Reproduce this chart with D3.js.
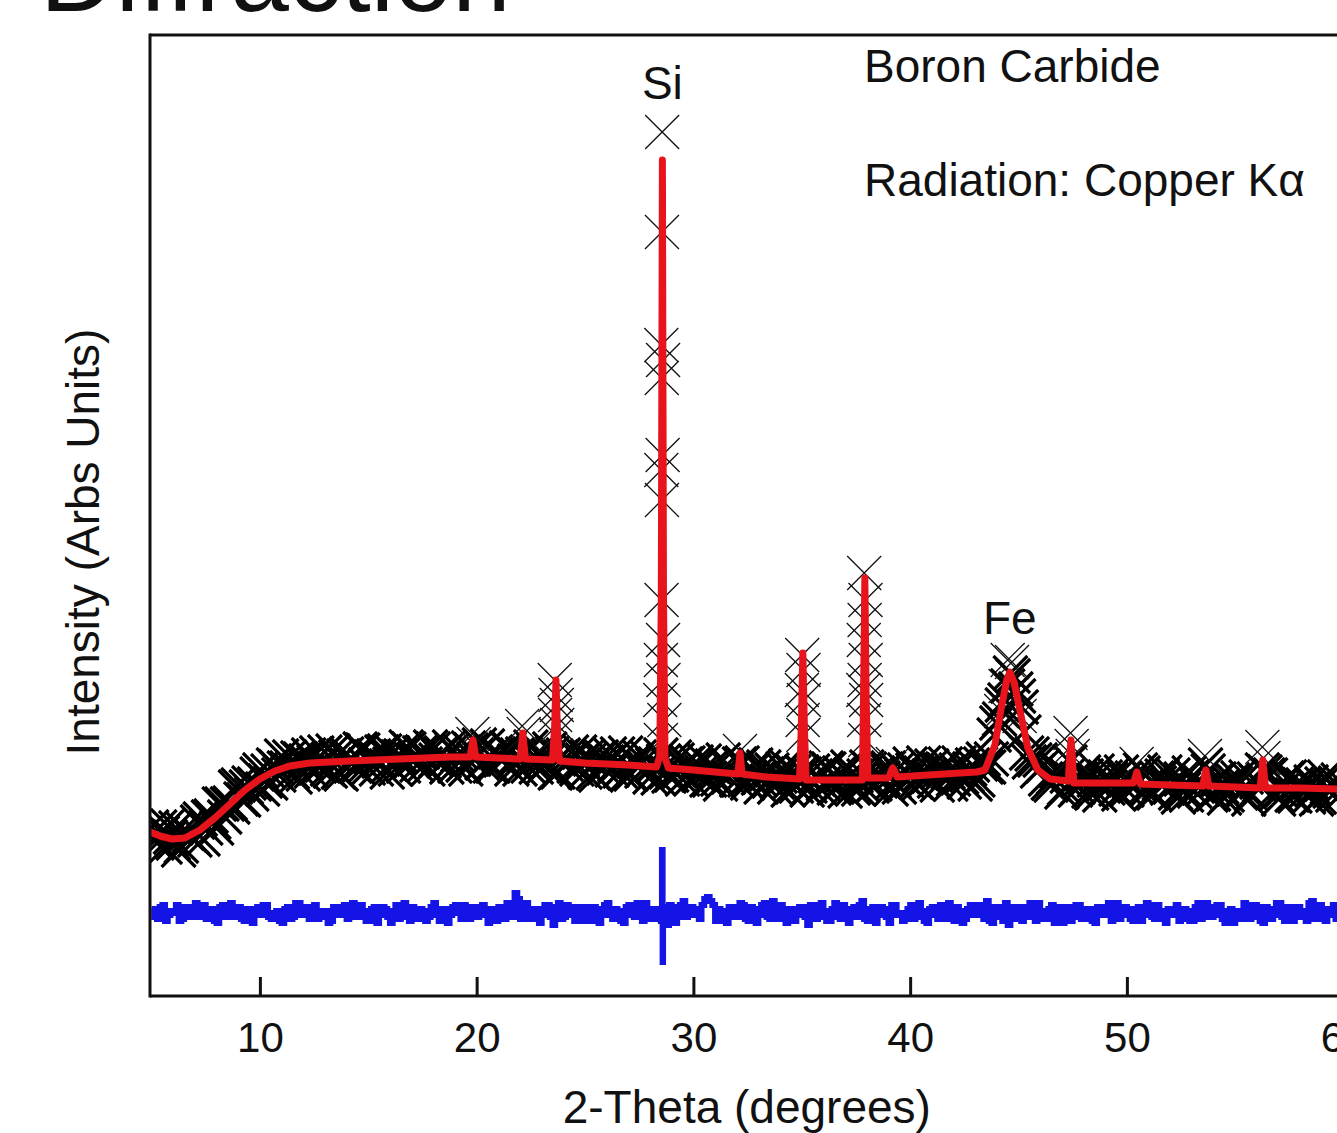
<!DOCTYPE html>
<html>
<head>
<meta charset="utf-8">
<script src="https://cdn.jsdelivr.net/npm/d3@7"></script>
<style>
  html, body { margin: 0; padding: 0; background: #ffffff; }
  svg { display: block; }
  text { font-family: "Liberation Sans", Arial, sans-serif; fill: #111; }
</style>
</head>
<body>
<svg id="chart" width="1337" height="1133"></svg>
<script>
// ---------------- data ----------------
const scanStart = 5.0;      // 2-theta of first scan point (degrees)
const scanStep = 0.125;     // step between scan points (degrees)

// observed intensity on the scan grid (arbitrary units)
const obsCounts = [
  169,157,153,169,163,149,170,159,153,168,146,150,166,163,161,159,156,174,177,157,
  168,179,180,174,168,192,192,179,192,193,189,209,211,197,196,209,213,202,212,222,
  226,207,215,225,213,231,229,221,240,228,228,239,224,219,238,237,222,235,241,225,
  234,243,230,231,244,227,225,245,239,224,222,240,242,236,237,230,229,247,246,231,
  228,239,240,227,235,244,245,224,232,243,227,239,240,230,249,247,236,237,231,243,
  244,232,227,249,247,236,240,243,235,229,249,246,230,241,244,231,227,248,246,237,
  241,251,233,235,250,230,230,244,242,236,237,248,247,227,235,241,227,242,242,230,
  249,236,229,244,239,230,234,247,243,223,224,239,241,232,236,244,230,227,244,236,
  224,240,237,223,221,238,239,228,234,242,226,231,242,225,228,243,223,222,235,233,
  239,225,228,238,219,231,232,218,241,235,224,220,221,239,236,225,217,232,233,217,
  227,234,221,224,235,216,216,230,228,217,212,236,230,219,226,224,216,232,233,216,
  213,218,226,231,218,209,229,222,215,226,209,214,220,227,230,206,215,224,210,218,
  224,222,206,210,225,220,217,207,212,228,227,215,208,209,223,221,205,229,221,208,
  220,207,212,220,229,227,210,212,223,215,218,227,228,207,215,226,209,220,226,215,
  232,226,214,212,223,233,218,220,230,215,211,226,227,232,224,212,217,226,233,219,
  214,221,227,231,212,216,232,237,229,229,237,261,273,277,291,296,310,323,320,307,
  300,289,264,243,234,242,236,225,236,230,217,213,211,219,225,226,204,208,220,234,
  216,206,209,217,224,220,205,203,216,225,201,211,219,208,217,222,207,202,224,217,
  206,214,218,210,213,226,223,209,208,203,203,218,213,220,224,208,209,221,203,199,
  217,207,201,223,219,205,210,214,207,231,225,201,202,216,217,209,198,201,212,216,
  213,218,203,208,219,197,202,217,214,211,226,224,221,221,204,202,197,205,214,218,
  219,201,200,213,211,211,205,199,214,208,197,199,212,219,209,205,201,213,216,202
];

// extra observed points on the flanks of the sharp peaks [2-theta, intensity]
const obsPeakPoints = [
  [19.8,262],[19.86,252],
  [22.1,270],[22.17,262],
  [23.6,316],[23.64,301],[23.7,291],[23.62,281],[23.72,271],[23.66,261],
  [28.56,864],[28.55,764],[28.52,651],[28.6,636],[28.54,618],[28.58,541],
  [28.52,526],[28.55,496],[28.53,396],[28.6,356],[28.5,336],[28.62,316],
  [28.47,296],[28.66,276],[28.5,256],
  [32.15,245],
  [35.02,341],[35.08,326],[35.0,306],[35.1,296],[35.04,276],[35.07,261],
  [37.88,423],[37.94,396],[37.9,376],[37.86,356],[37.95,336],[37.9,316],
  [37.84,306],[37.97,296],[37.88,276],[37.93,256],
  [39.2,232],
  [44.5,336],[44.7,334],[44.4,310],[44.85,305],[44.2,285],[45.05,280],
  [47.4,263],[47.45,250],[47.5,240],
  [50.45,232],
  [53.6,240],
  [56.25,249],[56.3,238]
];

// calculated (fitted) profile vertices [2-theta, intensity]
const calcCurve = [
  [4.93,164],[5.39,160],[5.94,157],[6.54,158],[7.23,166],[7.92,178],[8.62,192],
  [9.31,206],[10,217],[10.69,225],[11.38,230],[12.31,233],[14.15,235],[16.46,237],
  [18.77,239],[19.7,239],[19.78,250],[19.83,256],[19.88,250],[19.96,239],
  [21.0,238],[22.0,237],[22.07,250],[22.13,263],[22.19,250],[22.26,237],
  [23.5,236],[23.6,270],[23.66,316],[23.72,270],[23.82,235],
  [25,233],[27,231],[28.3,229],[28.45,240],[28.52,400],[28.57,836],[28.62,400],
  [28.69,238],[28.85,228],
  [30,226],[31,224],[32.05,222],[32.15,243],[32.25,222],
  [33.39,219],[34.9,217],[34.98,270],[35.05,343],[35.12,270],[35.2,216],
  [36.5,216],[37.8,216],[37.85,300],[37.91,418],[37.97,300],[38.05,218],
  [39.0,218],[39.15,226],[39.2,228],[39.25,226],[39.4,219],
  [42.3,223],[43.08,224],[43.45,226],[43.91,251],[44.23,291],[44.46,316],[44.6,324],
  [44.79,314],[45.06,286],[45.43,248],[45.89,226],[46.45,217],
  [47.3,215],[47.36,240],[47.42,256],[47.48,240],[47.55,213],
  [48.75,213],[50.3,213],[50.46,224],[50.62,212],[51.98,211],
  [53.5,210],[53.64,226],[53.78,210],[55.0,209],
  [56.15,208],[56.22,225],[56.27,236],[56.32,225],[56.4,208],
  [57.98,208],[59.7,207],[60,207]
];

// difference (observed - calculated) on the scan grid
const diffValues = [
   4,-4,-6, 6, 8,-8,-2, 2, 0, 8,-8,-6, 6, 0,-4, 6,10,-4,-2, 8,
  -6, 2, 4,-8,-10,6, 8,-4, 2,10,-4,-2, 6,-6,-8, 4, 0,-10,4, 6,
  -2, 8, 8,-4,-6, 0, 2,-8,-10,4, 6,-6,-4,10,10,-2,-2, 6,-6,-4,
   8,-6,-4, 2, 2,-10,-8,6, 6,-2, 0, 8,-6,-4,10, 0,-4, 8, 2,-8,
  -8, 4, 6,-10,-2,6, 4,-4,-10,2, 8,-6,-4,10, 0,-8, 6,-2,-6, 4,
   2,-8,-4, 6,10,-2,-8, 4, 4,-10,-2,6, 8, 0,-6, 8, 0,-6, 6,-2,
  -4, 6, 8,-2,-10,4, 2,-8, 6, 0,-6,10, 8,-4,20,14,-6, 4,10,-6,
  -6, 4, 4,-10,-2,8, 8,-4,-12,6,10,-6,-4, 8, 6,-2,-8, 6, 2,-8,
   6,-4,-8, 6, 4,-10,-2,8,10,-2,-6, 4, 2,-8,-10,6, 8,-2,-4,10,
   2,-8,10, 4,-6,-2, 4,-6,-8, 6,-12,8, 6,-10,-4,8,12,-4,-2, 6,
   4,-2,-6, 8,14,16,12, 8,-8, 4, 2,-8,-10,6, 6,-4,-4,10, 8,-6,
  -8, 6, 4,-10,-2,8,10,-4,-6,12, 0,-6, 8,-2,-10,4, 4,-8,-2, 6,
   6,-4,-12,8, 8,-6,-4,10, 2,-8,-8, 4,10,-4,-6, 8, 4,-10,-2,6,
  -4, 8,12,-6,-8, 4, 6,-10,-2,6, 4,-4,-10,8, 8,-2, 0,-8,-6, 4,
   8,-6,-4,10, 2,-8,-10,4, 6,-2,-6, 8, 4,-6,10,-4,-8, 6, 2,-10,
  -6, 4, 8,-2,-2, 8, 4,-6,12,-8,-10,6, 6,-4,-8,10,-12,6, 4,-6,
   6,-8,-4, 6,10,-4,-8,10, 2,-6,-6, 4, 8,-10,-2,6,-10,4, 6,-8,
  -4, 8, 8,-6,-6, 4, 4,-8,-10,6, 6,-2, 0,10,-8,-4,10,-6,-2, 6,
   4,-6,-8, 4, 6,-8,-2,10, 8,-4,-6, 8, 2,-6,-10,4, 4,-2, 8,-8,
  -6, 4, 2,-8,-8, 6,10,-6,-4,10, 6,-4,-2, 8, 8,-6,-10,2, 4,-10,
   2,-4,-6,10, 8,-6,-4, 8, 6,-8,-10,6, 4,-6,-2,10,10,-4,-8, 6,
   6,-8,-4, 6, 2,-4,-8,10,12,-6,-6, 8, 4,-8,-2, 4, 8,-6,-4, 8
];
// difference at the Si reflection [2-theta, difference]
const diffPeakPoints = [[28.52,-4],[28.55,63],[28.58,-49],[28.6,3]];
const diffOffset = 83;   // vertical offset of the difference curve

const xTicks = [10, 20, 30, 40, 50, 60];
const peakLabels = [
  { text: "Si", twoTheta: 28.57, intensity: 897 },
  { text: "Fe", twoTheta: 44.6, intensity: 362 }
];
const infoLines = ["Boron Carbide", "Radiation: Copper K\u03B1"];

// ---------------- layout ----------------
const W = 1337, H = 1133;
const plotLeft = 150, plotTop = 35, plotBottom = 996;
const pxPerDeg = 21.675;
const xMin = 4.93, xMax = 60;

const svg = d3.select("#chart");
svg.append("rect").attr("width", W).attr("height", H).attr("fill", "#fff");

const x = d3.scaleLinear().domain([xMin, xMax]).range([plotLeft, plotLeft + (xMax - xMin) * pxPerDeg]);
const y = d3.scaleLinear().domain([0, 961]).range([plotBottom, plotTop]);

svg.append("defs").append("clipPath").attr("id", "plotclip")
  .append("rect").attr("x", plotLeft).attr("y", plotTop)
  .attr("width", x(xMax) - plotLeft).attr("height", plotBottom - plotTop);

const plot = svg.append("g").attr("clip-path", "url(#plotclip)");

// observed points as crosses
const cs = 17;
const crossPath = d => {
  const px = x(d[0]), py = y(d[1]);
  return `M${px - cs},${py - cs}L${px + cs},${py + cs}M${px - cs},${py + cs}L${px + cs},${py - cs}`;
};
const scanPoints = obsCounts.map((v, i) => [scanStart + i * scanStep, v]);
// dense scan: heavier strokes give the solid band of the original's thousands of points
plot.append("g").selectAll("path").data(scanPoints).join("path")
  .attr("d", crossPath)
  .attr("fill", "none").attr("stroke", "#000").attr("stroke-width", 3.2);
plot.append("g").selectAll("path").data(obsPeakPoints).join("path")
  .attr("d", crossPath)
  .attr("fill", "none").attr("stroke", "#111").attr("stroke-width", 1.3);

// calculated profile
plot.append("path").datum(calcCurve)
  .attr("d", d3.line().x(d => x(d[0])).y(d => y(d[1])))
  .attr("fill", "none").attr("stroke", "#e8141c").attr("stroke-width", 7)
  .attr("stroke-linejoin", "round").attr("stroke-linecap", "round");

// difference curve
const diffPoints = diffValues.map((v, i) => [scanStart + i * scanStep, v])
  .concat(diffPeakPoints).sort((a, b) => a[0] - b[0]);
plot.append("path").datum(diffPoints)
  .attr("d", d3.line().curve(d3.curveStepAfter).x(d => x(d[0])).y(d => y(d[1] + diffOffset)))
  .attr("fill", "none").attr("stroke", "#1414e6").attr("stroke-width", 6)
  .attr("stroke-linejoin", "miter");

// frame
const frame = svg.append("g").attr("stroke", "#111").attr("stroke-width", 3).attr("fill", "none");
frame.append("line").attr("x1", plotLeft).attr("x2", W + 5).attr("y1", plotTop).attr("y2", plotTop);
frame.append("line").attr("x1", plotLeft).attr("x2", plotLeft).attr("y1", plotTop - 1.5).attr("y2", plotBottom + 1.5);

// x axis
const xAxis = d3.axisBottom(x).tickValues(xTicks).tickSizeInner(-19).tickSizeOuter(0).tickPadding(26)
  .tickFormat(d3.format("d"));
const gx = svg.append("g").attr("transform", `translate(0,${plotBottom})`).call(xAxis);
gx.select(".domain").attr("stroke", "#111").attr("stroke-width", 3).attr("d", `M${plotLeft},0H${W + 5}`);
gx.selectAll(".tick line").attr("stroke", "#111").attr("stroke-width", 3);
gx.selectAll(".tick text").attr("font-size", 42).attr("fill", "#111")
  .attr("font-family", "Liberation Sans, Arial, sans-serif");

// axis titles
svg.append("text").attr("x", (plotLeft + x(xMax)) / 2).attr("y", 1123)
  .attr("text-anchor", "middle").attr("font-size", 46).text("2-Theta (degrees)");
svg.append("text").attr("transform", "translate(99,542) rotate(-90)")
  .attr("text-anchor", "middle").attr("font-size", 46).text("Intensity (Arbs Units)");

// peak labels
svg.append("g").selectAll("text").data(peakLabels).join("text")
  .attr("x", d => x(d.twoTheta)).attr("y", d => y(d.intensity))
  .attr("text-anchor", "middle").attr("font-size", 46).text(d => d.text);

// info text
svg.append("g").selectAll("text").data(infoLines).join("text")
  .attr("x", 864).attr("y", (d, i) => 82 + i * 114)
  .attr("font-size", 46).text(d => d);

// slide title (cut off at top)
svg.append("text").attr("x", 40).attr("y", 11)
  .attr("font-family", "Open Sans, sans-serif").attr("font-weight", 300)
  .attr("font-size", 105).text("Diffraction");
</script>
</body>
</html>
